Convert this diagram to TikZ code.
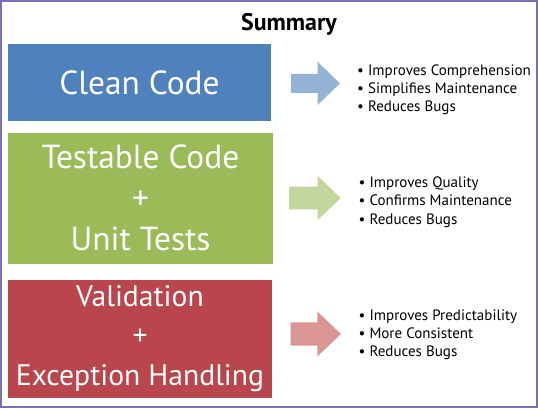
\documentclass[tikz,border=0pt]{standalone}
\usepackage{fontspec}
\setmainfont{PT Sans}
\begin{document}
\begin{tikzpicture}[x=1bp,y=-1bp,
  box/.style={draw=none,inner sep=0pt,text=white,align=center,
    font=\fontsize{33.5}{41}\selectfont},
  bullet/.style={anchor=base west,inner sep=0pt,font=\fontsize{15.1}{17}\selectfont},
  title/.style={font=\bfseries\fontsize{24}{26}\selectfont,inner sep=0pt}]
\definecolor{frame}{HTML}{7571B8}
\definecolor{cleanblue}{HTML}{4F81BD}
\definecolor{testgreen}{HTML}{9BBB59}
\definecolor{validred}{HTML}{B9464C}
\definecolor{arrowblue}{HTML}{95B3D7}
\definecolor{arrowgreen}{HTML}{C3D69B}
\definecolor{arrowred}{HTML}{D99694}

% page and frame
\fill[white] (0,0) rectangle (538,408);
\useasboundingbox (0,0) rectangle (538,408);
\draw[frame,line width=2bp] (1,1) rectangle (537,407);

% heading
\node[title] (summary) at (289,24.5) {Summary};

% coloured boxes
\node[box,fill=cleanblue,minimum width=263bp,minimum height=77bp] (clean) at (139.5,82.5) {Clean Code};
\node[box,fill=testgreen,minimum width=265bp,minimum height=131bp] (testable) at (140.5,198) {Testable Code\\+\\Unit Tests};
\node[box,fill=validred,minimum width=264bp,minimum height=118bp,
  font=\fontsize{29.8}{39.5}\selectfont] (validation) at (140,338.5) {Validation\\+\\Exception Handling};

% block arrows
\fill[arrowblue,shift={(291,83.4)}] (0,-9.5) -- (26.5,-9.5) -- (26.5,-21.7) -- (49,0) -- (26.5,21.7) -- (26.5,9.5) -- (0,9.5) -- cycle;
\fill[arrowgreen,shift={(289,198)}] (0,-11.3) -- (28.7,-11.3) -- (28.7,-22) -- (51.7,0) -- (28.7,22) -- (28.7,11.3) -- (0,11.3) -- cycle;
\fill[arrowred,shift={(290.7,334)}] (0,-11.7) -- (26.6,-11.7) -- (26.6,-22.5) -- (50.3,0) -- (26.6,22.5) -- (26.6,11.7) -- (0,11.7) -- cycle;

% benefit lists
\node[bullet] (c1) at (357,75.7) {\textbullet\ Improves Comprehension};
\node[bullet] (c2) at (357,93.5) {\textbullet\ Simplifies Maintenance};
\node[bullet] (c3) at (357,111.2) {\textbullet\ Reduces Bugs};

\node[bullet] (t1) at (358.5,187.7) {\textbullet\ Improves Quality};
\node[bullet] (t2) at (358.5,205.7) {\textbullet\ Confirms Maintenance};
\node[bullet] (t3) at (358.5,224) {\textbullet\ Reduces Bugs};

\node[bullet] (v1) at (358.5,320) {\textbullet\ Improves Predictability};
\node[bullet] (v2) at (358.5,338.7) {\textbullet\ More Consistent};
\node[bullet] (v3) at (358.5,356.7) {\textbullet\ Reduces Bugs};
\end{tikzpicture}
\end{document}
